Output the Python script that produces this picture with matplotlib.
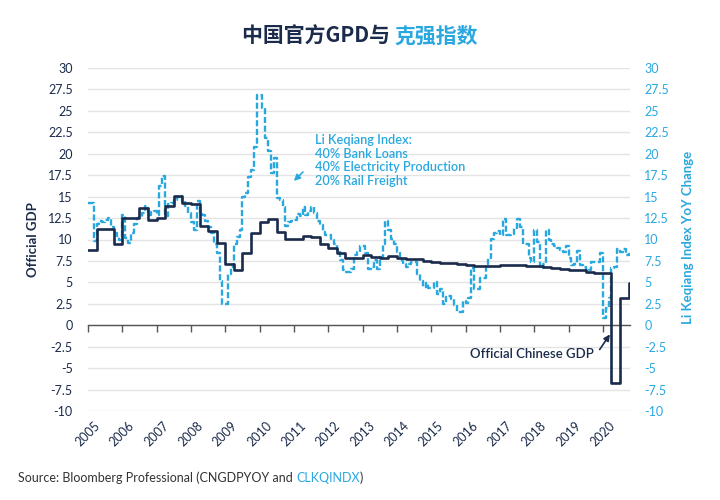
import matplotlib.pyplot as plt
import numpy as np

# official GDP YoY, quarterly (as shown on chart), 2005Q1 .. 2020Q4
gdp = [8.8, 11.2, 11.2, 9.5,
       12.5, 12.5, 13.7, 12.3,
       12.5, 13.9, 15.1, 14.3,
       14.1, 11.6, 11.0, 9.6,
       7.2, 6.5, 8.4, 10.7,
       12.0, 12.4, 10.9, 10.1,
       10.1, 10.4, 10.3, 9.5,
       9.0, 8.4, 7.9, 7.8,
       8.2, 8.0, 7.9, 8.1,
       7.9, 7.7, 7.7, 7.5,
       7.4, 7.3, 7.3, 7.1,
       7.0, 6.9, 6.9, 6.9,
       7.0, 7.0, 7.0, 6.9,
       6.9, 6.8, 6.7, 6.6,
       6.5, 6.4, 6.2, 6.1,
       6.1, -6.7, 3.2, 4.9]

# Li Keqiang index YoY, monthly, Jan 2005 .. Oct 2020
lki = [14.2, 14.2, 9.8, 11.8, 12.2, 12.0, 12.3, 12.5, 11.5, 10.8, 10.3, 10.0,
       12.9, 10.2, 9.6, 10.8, 11.8, 12.5, 12.6, 13.1, 13.9, 12.9, 13.2, 13.3,
       12.9, 16.2, 17.4, 12.7, 14.1, 14.3, 14.6, 14.9, 15.1, 14.5, 13.9, 13.1,
       12.0, 11.1, 14.5, 13.0, 12.8, 12.2, 11.5, 10.8, 9.5, 8.4, 5.2, 2.5,
       2.5, 6.0, 6.8, 9.5, 10.3, 11.1, 15.0, 15.4, 17.3, 18.1, 20.8, 26.9,
       26.9, 25.3, 21.8, 20.3, 17.8, 19.5, 14.8, 14.6, 13.8, 11.6, 12.0, 12.2,
       12.3, 13.0, 12.7, 13.8, 12.9, 13.3, 13.8, 13.1, 12.1, 11.7, 10.9, 10.5,
       10.5, 10.0, 9.5, 8.8, 7.6, 6.4, 6.2, 6.2, 6.6, 8.2, 8.5, 9.3,
       9.2, 8.4, 6.6, 6.8, 7.6, 6.6, 8.0, 9.5, 12.1, 11.1, 10.1, 9.5,
       8.5, 7.6, 7.2, 6.8, 7.2, 7.4, 7.4, 6.0, 5.2, 4.5, 4.9, 4.4,
       4.3, 5.0, 3.6, 4.2, 2.5, 3.3, 3.4, 3.1, 2.4, 1.5, 1.5, 2.8,
       2.6, 3.2, 6.7, 4.2, 4.2, 5.5, 5.5, 7.2, 7.8, 10.1, 10.7, 11.0,
       10.5, 12.4, 10.5, 10.5, 10.6, 11.3, 12.4, 11.5, 9.5, 9.5, 7.8, 7.4,
       11.1, 9.7, 6.7, 7.2, 11.1, 9.9, 9.5, 9.3, 9.0, 8.8, 8.6, 9.2,
       7.8, 7.0, 7.2, 8.7, 7.0, 6.8, 6.3, 6.5, 7.4, 7.4, 7.4, 8.4,
       0.9, 2.0, 3.2, 6.7, 6.8, 8.9, 8.6, 8.9, 8.2, 8.3]

years = list(range(2005, 2021))
start = 2005.0
end = 2020.8

navy = '#1b2b4b'
blue = '#29a8e0'
grid_c = '#e4e4e4'

plt.rcParams['font.family'] = ['Lato', 'Noto Sans CJK SC', 'DejaVu Sans']


def steps(vals, per_year):
    x = start + np.arange(len(vals)) / per_year
    return np.append(x, end), np.append(vals, vals[-1])


def colored_text(fig, xc, y, parts, ha='center', **kw):
    r = fig.canvas.get_renderer()
    texts = [fig.text(0, y, s, color=c, va='center', **kw) for s, c in parts]
    widths = [t.get_window_extent(r).width / fig.bbox.width for t in texts]
    x = xc - sum(widths) / 2 if ha == 'center' else xc
    for t, w in zip(texts, widths):
        t.set_x(x)
        x += w


fig = plt.figure(figsize=(7.2, 5), dpi=100)
ax = fig.add_axes([0.1222, 0.178, 0.7533, 0.686])
ax2 = ax.twinx()
ax.set_zorder(ax2.get_zorder() + 1)
ax.patch.set_visible(False)

yt = np.arange(-10, 30.1, 2.5)
for a in (ax, ax2):
    a.set_ylim(-10, 30)
    a.set_xlim(start, end)
    a.set_yticks(yt)
    a.set_yticklabels([f'{v:g}' for v in yt])
    for s in a.spines.values():
        s.set_visible(False)

ax2.yaxis.grid(True, color=grid_c, lw=1)
ax2.set_axisbelow(True)

lx, ly = steps(lki, 12)
ax2.plot(lx, ly, drawstyle='steps-post', color=blue, lw=1.7, ls=(0, (2.6, 1.1)))
gx, gy = steps(gdp, 4)
ax.plot(gx, gy, drawstyle='steps-post', color=navy, lw=1.9)

ax.tick_params(axis='y', length=0, pad=11, labelsize=9, labelcolor=navy)
ax2.tick_params(axis='y', length=0, pad=10, labelsize=9, labelcolor=blue)

ax.set_xticks(years)
ax.set_xticklabels([str(y) for y in years], rotation=45, ha='center')
ax.tick_params(axis='x', length=0, pad=6, labelsize=9, labelcolor=navy)

# tick marks sit on the zero line
sec = ax.secondary_xaxis(0, transform=ax.transData)
sec.set_xticks(years)
sec.tick_params(axis='x', length=5, width=1, color='#555555', labelbottom=False)
sec.spines['bottom'].set_color('#555555')
sec.spines['bottom'].set_linewidth(1)

ax.text(2011.62, 22.3, 'Li Keqiang Index:\n40% Bank Loans\n40% Electricity Production\n20% Rail Freight',
        color=blue, fontsize=9.2, va='top', ha='left', linespacing=1.15, weight='semibold')
ax.annotate('', xy=(2010.94, 16.6), xytext=(2011.32, 18.1),
            arrowprops=dict(arrowstyle='-|>', color=blue, lw=1.2, mutation_scale=9))
ax.text(2016.13, -3.4, 'Official Chinese GDP', color=navy, fontsize=9.5, va='center', ha='left',
        weight='semibold')
ax.annotate('', xy=(2020.25, -0.8), xytext=(2019.86, -3.1),
            arrowprops=dict(arrowstyle='-|>', color=navy, lw=1.2, mutation_scale=9))

fig.text(0.046, 0.52, 'Official GDP', rotation=90, color=navy, fontsize=9.5,
         weight='bold', ha='center', va='center')
fig.text(0.955, 0.526, 'Li Keqiang Index YoY Change', rotation=90, color=blue,
         fontsize=9.5, weight='bold', ha='center', va='center')

colored_text(fig, 0.5, 0.928, [('中国官方GPD与 ', navy), ('克强指数', blue)],
             fontsize=15, family=['Noto Sans CJK SC', 'DejaVu Sans'], weight='bold')
colored_text(fig, 0.025, 0.044, [('Source: Bloomberg Professional (CNGDPYOY and ', '#333333'),
                                 ('CLKQINDX', blue), (')', '#333333')],
             ha='left', fontsize=9)

fig.savefig('out.png', dpi=100)
